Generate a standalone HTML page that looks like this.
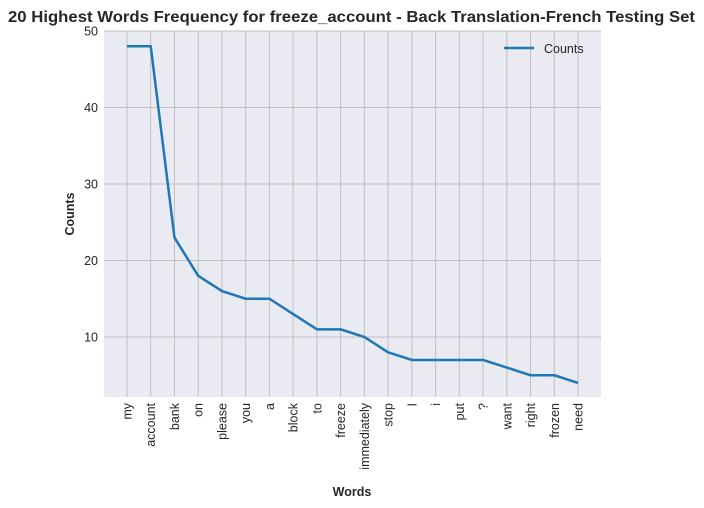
<!DOCTYPE html>
<html><head><meta charset="utf-8"><style>
body{margin:0;background:#fff;}
svg{display:block;font-family:"Liberation Sans",Arial,sans-serif;}
</style></head><body>
<svg id="c" width="704" height="508"></svg>
<script>
const words=["my","account","bank","on","please","you","a","block","to","freeze","immediately","stop","I","i","put","?","want","right","frozen","need"];
const counts=[48,48,23,18,16,15,15,13,11,11,10,8,7,7,7,7,6,5,5,4];
const yTicks=[10,20,30,40,50];
const NS="http://www.w3.org/2000/svg";
const svg=document.getElementById('c');
const L=104,R=601,T=31,B=397;
const x=i=>127+i*(578-127)/(words.length-1);
const y=v=>413.5-v*7.65;
function mk(t,a,txt){const e=document.createElementNS(NS,t);for(const k in a)e.setAttribute(k,a[k]);if(txt!==undefined)e.textContent=txt;svg.appendChild(e);return e;}
const bg=mk('rect',{x:L,y:T,width:R-L,height:B-T,fill:'#eaeaf2'});


words.forEach((w,i)=>{
 const g=mk('line',{x1:x(i),x2:x(i),y1:T,y2:B,stroke:'#c0c0c0','stroke-width':1});
 
 
 const t=mk('text',{x:0,y:0,'font-size':12.5,fill:'#262626','text-anchor':'end',transform:`translate(${x(i)+4.5},${B+6}) rotate(-90)`},w);
 
 
});
yTicks.forEach(v=>{
 const g=mk('line',{x1:L,x2:R,y1:y(v),y2:y(v),stroke:'#c0c0c0','stroke-width':1});
 
 
 const t=mk('text',{x:L-6,y:y(v)+4.5,'font-size':12.5,fill:'#262626','text-anchor':'end'},v);
 
 
});
const line=mk('polyline',{points:counts.map((c,i)=>x(i)+','+y(c)).join(' '),fill:'none',stroke:'#1f77b4','stroke-width':2.5,'stroke-linejoin':'round'});


const ll=mk('line',{x1:504,x2:534,y1:48,y2:48,stroke:'#1f77b4','stroke-width':2.5});


const lt=mk('text',{x:544,y:53,'font-size':12.5,fill:'#262626'},'Counts');


const ti=mk('text',{x:8,y:22,'font-size':15.5,'font-weight':'bold',fill:'#262626',textLength:687,lengthAdjust:'spacingAndGlyphs'},'20 Highest Words Frequency for freeze_account - Back Translation-French Testing Set');


const xt=mk('text',{x:352,y:496,'font-size':12.5,'font-weight':'bold',fill:'#262626','text-anchor':'middle'},'Words');


const yt=mk('text',{x:0,y:0,'font-size':12.5,'font-weight':'bold',fill:'#262626','text-anchor':'middle',transform:'translate(74,214) rotate(-90)'},'Counts');


</script>
</body></html>
